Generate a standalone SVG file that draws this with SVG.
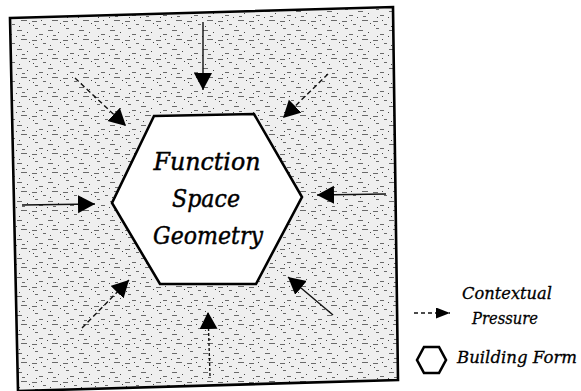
<svg xmlns="http://www.w3.org/2000/svg" width="581" height="391" viewBox="0 0 581 391">
  <style>
    .frame { stroke: #000; stroke-width: 2.6; }
    .hex { fill: #fff; stroke: #000; stroke-width: 2.6; stroke-linejoin: miter; }
    .shaft { fill: none; stroke: #111; stroke-width: 1.4; }
    .dash { stroke-dasharray: 5 3; }
    .dot { stroke-dasharray: 3 2; }
    .lbl { font-family: "DejaVu Serif", "Liberation Serif", serif; font-style: italic; fill: #000; stroke: #000; stroke-width: 0.45; }
    .main { font-size: 25px; text-anchor: middle; }
    .leg { font-size: 17px; stroke-width: 0.3; }
  </style>
  <defs>
    <pattern id="speckle" width="31" height="19" patternUnits="userSpaceOnUse">
      <rect width="31" height="19" fill="#efefef"/>
      <g stroke="#6a6a6a" stroke-width="1">
        <line x1="1" y1="2.5" x2="6" y2="2.5"/>
        <line x1="12" y1="5.5" x2="15" y2="5.5"/>
        <line x1="21" y1="1.5" x2="27" y2="1.5"/>
        <line x1="4" y1="9.5" x2="7" y2="9.5"/>
        <line x1="17" y1="11.5" x2="22" y2="11.5"/>
        <line x1="8" y1="15.5" x2="12" y2="15.5"/>
        <line x1="22" y1="16.5" x2="25" y2="16.5"/>
      </g>
      <g fill="#444">
        <rect x="10" y="1" width="1" height="1"/>
        <rect x="29" y="4" width="1" height="1"/>
        <rect x="2" y="6" width="1" height="1"/>
        <rect x="19" y="7" width="1" height="1"/>
        <rect x="27" y="13" width="1" height="1"/>
        <rect x="5" y="17" width="1" height="1"/>
        <rect x="16" y="17" width="1" height="1"/>
      </g>
    </pattern>
    <marker id="head" markerUnits="userSpaceOnUse" markerWidth="19" markerHeight="20" refX="17" refY="9" orient="auto" viewBox="0 0 19 20">
      <path d="M0,0 L17,9 L0,18 Z" fill="#000"/>
    </marker>
    <marker id="headSmall" markerUnits="userSpaceOnUse" markerWidth="15" markerHeight="12" refX="14" refY="5.5" orient="auto" viewBox="0 0 15 12">
      <path d="M0,0 L14,5.5 L0,11 Z" fill="#000"/>
    </marker>
  </defs>

  <g id="frame">
    <polygon class="frame" points="10,18 393,7 398,380 18,391" fill="url(#speckle)"/>
  </g>

  <g id="connectors">
    <line class="shaft" x1="203" y1="22" x2="203" y2="90" marker-end="url(#head)"/>
    <line class="shaft dash" x1="75" y1="78" x2="126" y2="126" marker-end="url(#head)"/>
    <line class="shaft dash" x1="328" y1="74" x2="283" y2="118" marker-end="url(#head)"/>
    <line class="shaft" x1="386" y1="194" x2="317" y2="195" marker-end="url(#head)"/>
    <line class="shaft" x1="22" y1="205" x2="95" y2="204" marker-end="url(#head)"/>
    <line class="shaft dash" x1="82" y1="328" x2="129" y2="280" marker-end="url(#head)"/>
    <line class="shaft" x1="333" y1="315" x2="288" y2="277" marker-end="url(#head)"/>
    <line class="shaft dot" x1="210" y1="376" x2="208" y2="312" marker-end="url(#head)"/>
  </g>

  <g id="building-form">
    <polygon class="hex" points="154,116 254,114 302,197 256,284 160,284 112,203"/>
    <text class="lbl main" x="207" y="170" textLength="107" lengthAdjust="spacingAndGlyphs">Function</text>
    <text class="lbl main" x="206" y="207" textLength="68" lengthAdjust="spacingAndGlyphs">Space</text>
    <text class="lbl main" x="208" y="244" textLength="110" lengthAdjust="spacingAndGlyphs">Geometry</text>
  </g>

  <g id="legend-pressure">
    <line class="shaft" x1="414" y1="313" x2="450" y2="313" stroke-dasharray="4 3" marker-end="url(#headSmall)"/>
    <text class="lbl leg" x="462" y="299" textLength="90" lengthAdjust="spacingAndGlyphs">Contextual</text>
    <text class="lbl leg" x="472" y="324" textLength="66" lengthAdjust="spacingAndGlyphs">Pressure</text>
  </g>

  <g id="legend-form">
    <polygon class="hex" points="417,360 424,347 439,347 446,360 439,373 424,373" stroke-width="2"/>
    <text class="lbl leg" x="457" y="363" textLength="120" lengthAdjust="spacingAndGlyphs">Building Form</text>
  </g>
</svg>
